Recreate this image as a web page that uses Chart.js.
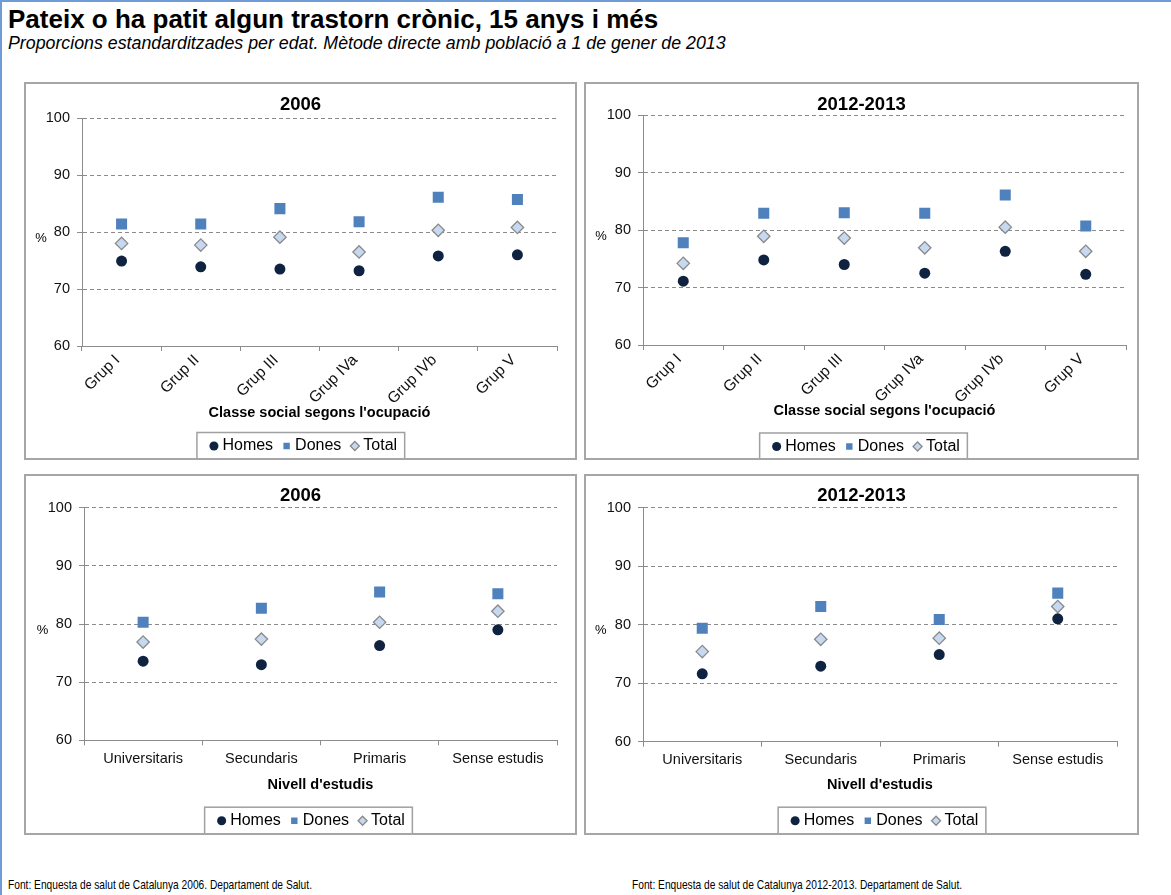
<!DOCTYPE html>
<html>
<head>
<meta charset="utf-8">
<title>Pateix o ha patit algun trastorn crònic</title>
<script src="https://cdn.jsdelivr.net/npm/chart.js@4.4.1/dist/chart.umd.min.js"></script>
<style>
  html, body { margin: 0; padding: 0; background: #fff; }
  body { width: 1171px; height: 895px; position: relative; overflow: hidden;
         font-family: "Liberation Sans", Arial, sans-serif; color: #000; }
  #frame { position: absolute; left: 0; top: 0; width: 1171px; height: 895px; box-sizing: border-box;
           border-top: 2px solid #6f9bd6; border-left: 2px solid #6f9bd6; }
  #title { position: absolute; left: 8px; top: 6px; margin: 0; font-size: 26px; line-height: 26px;
           font-weight: bold; white-space: nowrap; }
  #subtitle { position: absolute; left: 8px; top: 34.5px; margin: 0; font-size: 17.8px; line-height: 17.8px;
              font-style: italic; white-space: nowrap; }
  .panel { position: absolute; box-sizing: border-box; border: 2px solid #a6a6a6; overflow: hidden; background: #fff; }
  .panel canvas { position: absolute; left: 0; top: 0; }
  .foot { position: absolute; top: 879px; font-family: "Liberation Sans", Arial, sans-serif;
          font-size: 12.6px; line-height: 12.6px; white-space: nowrap;
          transform: scaleX(0.81); transform-origin: 0 0; }
</style>
</head>
<body>
<div id="frame"></div>
<h1 id="title">Pateix o ha patit algun trastorn crònic, 15 anys i més</h1>
<p id="subtitle">Proporcions estandarditzades per edat. Mètode directe amb població a 1 de gener de 2013</p>

<div class="panel" id="pTL" style="left:24px;top:82px;width:553px;height:378px"><canvas id="cTL"></canvas></div>
<div class="panel" id="pTR" style="left:584px;top:82px;width:555px;height:378px"><canvas id="cTR"></canvas></div>
<div class="panel" id="pBL" style="left:24px;top:474px;width:553px;height:361px"><canvas id="cBL"></canvas></div>
<div class="panel" id="pBR" style="left:584px;top:474px;width:555px;height:361px"><canvas id="cBR"></canvas></div>

<div class="foot" style="left:8px">Font: Enquesta de salut de Catalunya 2006. Departament de Salut.</div>
<div class="foot" style="left:632px">Font: Enquesta de salut de Catalunya 2012-2013. Departament de Salut.</div>

<script>
// ---- data ----
const classGroups = ['Grup I', 'Grup II', 'Grup III', 'Grup IVa', 'Grup IVb', 'Grup V'];
const studyLevels = ['Universitaris', 'Secundaris', 'Primaris', 'Sense estudis'];
const yTicks = [60, 70, 80, 90, 100];
const seriesNames = ['Homes', 'Dones', 'Total'];

const class2006Homes = [74.9, 73.9, 73.5, 73.2, 75.8, 76.0];
const class2006Dones = [81.4, 81.4, 84.1, 81.8, 86.1, 85.7];
const class2006Total = [78.0, 77.7, 79.1, 76.5, 80.3, 80.8];

const class2013Homes = [71.1, 74.8, 74.0, 72.5, 76.3, 72.3];
const class2013Dones = [77.8, 82.9, 83.0, 82.9, 86.1, 80.7];
const class2013Total = [74.2, 78.9, 78.6, 76.9, 80.5, 76.3];

const study2006Homes = [73.6, 73.0, 76.3, 79.0];
const study2006Dones = [80.3, 82.7, 85.5, 85.2];
const study2006Total = [76.9, 77.4, 80.3, 82.2];

const study2013Homes = [71.6, 72.9, 74.9, 81.0];
const study2013Dones = [79.4, 83.1, 80.9, 85.4];
const study2013Total = [75.4, 77.5, 77.7, 83.1];

// ---- styling ----
const FONT = '"Liberation Sans", Arial, sans-serif';
const AXIS_GREY = '#8c8c8c';
const TITLE_SIZE = 18.5, XTITLE_SIZE = 14.5, LEGEND_SIZE = 16, LEGEND_PAD = 13;

// Centres the panel title on the panel, places the legend row,
// draws the "%" unit beside the value axis and frames the legend
const panelDecor = {
  id: 'panelDecor',
  afterLayout(chart, args, opts) {
    const tb = chart.titleBlock;
    if (tb) { tb.left = 0; tb.right = chart.width; }
    const lg = chart.legend;
    if (!lg) return;
    const left = opts.legendCenter + 4.5 - chart.width / 2;
    lg.left = left;
    lg.right = left + chart.width;
  },
  afterDraw(chart, args, opts) {
    const ctx = chart.ctx;
    const y = chart.scales.y;
    ctx.save();
    ctx.font = '13px ' + FONT;
    ctx.fillStyle = '#000';
    ctx.textAlign = 'center';
    ctx.textBaseline = 'middle';
    ctx.fillText('%', opts.pctX, y.getPixelForValue(80) + 6);

    const boxes = chart.legend.legendHitBoxes;
    if (boxes && boxes.length) {
      const first = boxes[0], last = boxes[boxes.length - 1];
      const cy = first.top + first.height / 2;
      const left = first.left - 16.5;
      const right = last.left + last.width + 7.5;
      ctx.strokeStyle = '#a0a0a0';
      ctx.lineWidth = 1.5;
      ctx.strokeRect(left, cy - 13.5, right - left, chart.height - (cy - 13.5) + 4);
    }
    ctx.restore();
  }
};

function makePanel(canvasId, spec) {
  const cv = document.getElementById(canvasId);
  cv.width = spec.W; cv.height = spec.H;
  cv.style.width = spec.W + 'px'; cv.style.height = spec.H + 'px';

  const tl = TITLE_SIZE * 1.2;
  const xtl = XTITLE_SIZE * 1.2;
  const legendH = LEGEND_SIZE + LEGEND_PAD + 10;
  const legendTop = spec.legendY - (LEGEND_PAD + LEGEND_SIZE / 2);
  const xScaleH = legendTop - spec.chartBottom;

  const datasets = [
    { label: seriesNames[0], data: spec.homes, pointStyle: 'circle', pointRadius: 5.5,
      backgroundColor: '#0f2341', borderColor: '#0f2341', borderWidth: 0, pointBorderWidth: 0 },
    { label: seriesNames[1], data: spec.dones, pointStyle: 'rect', pointRadius: 7.8,
      backgroundColor: '#4f81bd', borderColor: '#4f81bd', borderWidth: 0, pointBorderWidth: 0 },
    { label: seriesNames[2], data: spec.total, pointStyle: 'rectRot', pointRadius: 6.2,
      backgroundColor: '#c6d9f1', borderColor: '#8a8a8a', borderWidth: 1.3, pointBorderWidth: 1.3 }
  ];

  return new Chart(cv, {
    type: 'line',
    data: { labels: spec.labels, datasets: datasets.map(d => Object.assign({ showLine: false, pointHoverRadius: d.pointRadius }, d)) },
    plugins: [panelDecor],
    options: {
      responsive: false,
      animation: false,
      devicePixelRatio: 1,
      events: [],
      layout: { padding: { top: 0, left: 0, right: spec.W - spec.axisRight, bottom: spec.H - (legendTop + legendH) } },
      plugins: {
        tooltip: { enabled: false },
        title: {
          display: true, text: spec.title, color: '#000',
          font: { family: FONT, size: TITLE_SIZE, weight: 'bold', lineHeight: 1.2 },
          padding: { top: spec.titleCenter - tl / 2, bottom: spec.chartTop - spec.titleCenter - tl / 2 }
        },
        legend: {
          position: 'bottom',
          labels: {
            usePointStyle: true, boxWidth: 1, boxHeight: 6.4, padding: LEGEND_PAD,
            color: '#000', font: { family: FONT, size: LEGEND_SIZE }
          }
        },
        panelDecor: { pctX: spec.pctX, legendCenter: spec.legendCenter }
      },
      scales: {
        x: {
          type: 'category',
          offset: true,
          afterFit: s => { s.height = xScaleH; },
          grid: { display: true, drawOnChartArea: false, drawTicks: true, tickLength: 5, offset: true,
                  color: AXIS_GREY, tickColor: AXIS_GREY },
          border: { display: true, color: AXIS_GREY, width: 1 },
          ticks: { autoSkip: false, color: '#111', padding: spec.rotate ? 0 : 5,
                   labelOffset: spec.rotate ? -4 : 0,
                   minRotation: spec.rotate ? 45 : 0, maxRotation: spec.rotate ? 45 : 0,
                   font: { family: FONT, size: spec.rotate ? 15.5 : 14.5 } },
          title: { display: true, text: spec.xTitle, color: '#000',
                   font: { family: FONT, size: XTITLE_SIZE, weight: 'bold', lineHeight: 1.2 },
                   padding: { top: 0, bottom: legendTop - spec.xTitleCenter - xtl / 2 } }
        },
        y: {
          min: yTicks[0], max: yTicks[yTicks.length - 1],
          afterFit: s => { s.width = spec.axisLeft; },
          afterBuildTicks: s => { s.ticks = yTicks.map(v => ({ value: v })); },
          grid: { display: true, drawOnChartArea: true, drawTicks: true, tickLength: 5,
                  color: c => (c.tick && c.tick.value === yTicks[0]) ? 'rgba(0,0,0,0)' : '#8a8a8a',
                  tickColor: AXIS_GREY, tickBorderDash: [], lineWidth: 1 },
          border: { display: true, color: AXIS_GREY, width: 1, dash: [4, 3] },
          ticks: { color: '#111', padding: 7, font: { family: FONT, size: 14.5 } }
        }
      }
    }
  });
}

makePanel('cTL', {
  W: 549, H: 374, title: '2006', labels: classGroups, rotate: true,
  xTitle: "Classe social segons l'ocupació",
  homes: class2006Homes, dones: class2006Dones, total: class2006Total,
  titleCenter: 21, chartTop: 34, chartBottom: 262, xTitleCenter: 329, legendY: 362,
  axisLeft: 56, axisRight: 531, pctX: 15, legendCenter: 274.8
});
makePanel('cTR', {
  W: 551, H: 374, title: '2012-2013', labels: classGroups, rotate: true,
  xTitle: "Classe social segons l'ocupació",
  homes: class2013Homes, dones: class2013Dones, total: class2013Total,
  titleCenter: 21, chartTop: 31, chartBottom: 261, xTitleCenter: 327, legendY: 362.5,
  axisLeft: 57, axisRight: 540, pctX: 15, legendCenter: 277.5
});
makePanel('cBL', {
  W: 549, H: 357, title: '2006', labels: studyLevels, rotate: false,
  xTitle: "Nivell d'estudis",
  homes: study2006Homes, dones: study2006Dones, total: study2006Total,
  titleCenter: 20, chartTop: 31.7, chartBottom: 264.3, xTitleCenter: 309, legendY: 344.7,
  axisLeft: 58, axisRight: 531, pctX: 16.6, legendCenter: 282.5
});
makePanel('cBR', {
  W: 551, H: 357, title: '2012-2013', labels: studyLevels, rotate: false,
  xTitle: "Nivell d'estudis",
  homes: study2013Homes, dones: study2013Dones, total: study2013Total,
  titleCenter: 20, chartTop: 31.7, chartBottom: 265.7, xTitleCenter: 309, legendY: 344.7,
  axisLeft: 57, axisRight: 531, pctX: 14.8, legendCenter: 296
});
</script>
</body>
</html>
